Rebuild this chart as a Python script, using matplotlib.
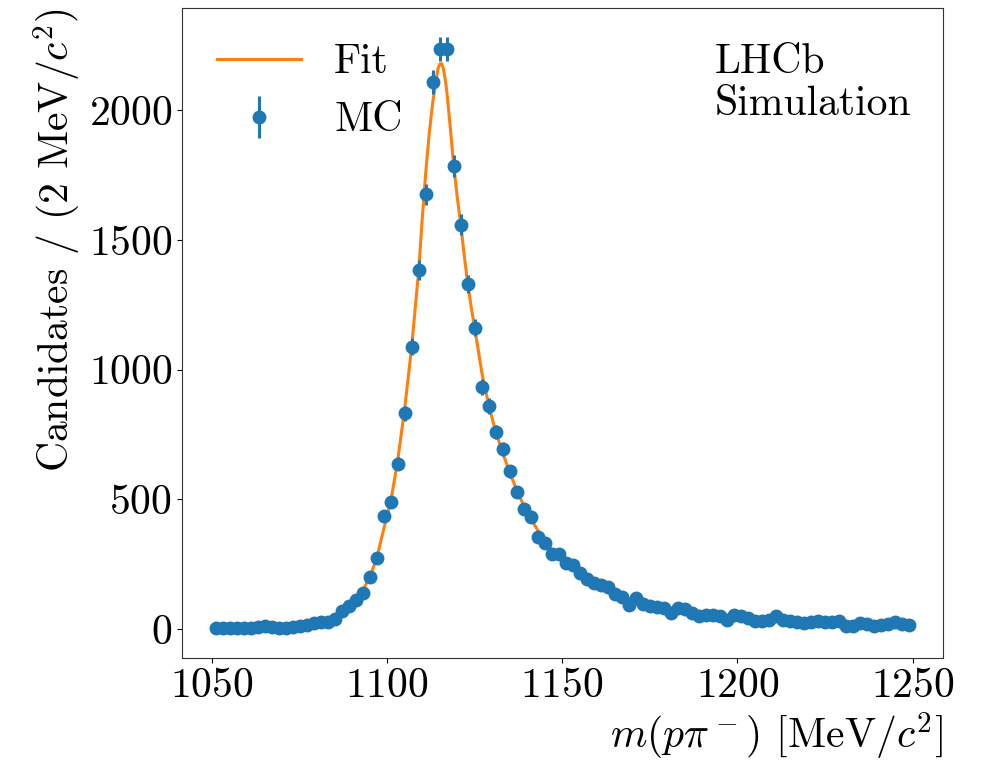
import numpy as np
import matplotlib
matplotlib.use("Agg")
import matplotlib.pyplot as plt

plt.rcParams['font.family'] = 'serif'
plt.rcParams['font.serif'] = ['cmr10']
plt.rcParams['mathtext.fontset'] = 'cm'
plt.rcParams['axes.formatter.use_mathtext'] = True
plt.rcParams['font.size'] = 30

# bin centres of m(p pi-) in MeV/c^2 (2 MeV bins)
mass = np.arange(1051, 1250, 2)

# MC candidates per bin
counts = [2, 3, 3, 4, 4, 4, 6, 10, 6, 2,
          4, 8, 10, 14, 22, 28, 26, 38, 68, 90,
          112, 140, 202, 274, 436, 489, 638, 832, 1088, 1384,
          1676, 2110, 2236, 2236, 1785, 1559, 1330, 1162, 932, 860,
          759, 694, 608, 527, 463, 431, 355, 333, 289, 289,
          253, 245, 216, 193, 176, 170, 161, 135, 122, 92,
          118, 96, 89, 86, 80, 60, 80, 77, 60, 50,
          53, 53, 51, 35, 53, 51, 41, 32, 32, 35,
          50, 35, 31, 28, 24, 28, 31, 26, 26, 32,
          13, 12, 22, 19, 13, 15, 18, 28, 18, 15]
counts = np.array(counts, dtype=float)
errors = np.sqrt(counts)

# fit curve
fit_m = [1050, 1060, 1070, 1075, 1080, 1083, 1085, 1087, 1089, 1091,
         1093, 1095, 1097, 1099, 1101, 1103, 1105, 1107, 1109, 1110,
         1111, 1112, 1113, 1114, 1114.5, 1115, 1115.5, 1116, 1116.5, 1117,
         1118, 1119, 1120, 1121, 1122, 1123, 1124, 1125, 1127, 1129,
         1131, 1133, 1135, 1137, 1139, 1141, 1143, 1145, 1147, 1149,
         1151, 1155, 1160, 1165, 1170, 1175, 1180, 1185, 1190, 1200,
         1210, 1220, 1230, 1240, 1250]
fit_y = [3, 5, 9, 14, 24, 35, 45, 60, 82, 110,
         148, 200, 272, 385, 490, 650, 850, 1090, 1384, 1580,
         1760, 1910, 2030, 2120, 2160, 2178, 2180, 2162, 2125, 2075,
         1935, 1785, 1665, 1559, 1440, 1330, 1240, 1160, 990, 862,
         760, 678, 603, 535, 475, 425, 380, 340, 305, 276,
         250, 207, 165, 135, 112, 94, 80, 69, 60, 47,
         37, 30, 25, 21, 18]

fig = plt.figure(figsize=(9.82, 7.67), dpi=100)
ax = fig.add_axes([0.1853, 0.1417, 0.775, 0.8475])

fit_line, = ax.plot(fit_m, fit_y, color='#ff7f0e', lw=2.2, zorder=2)
mc = ax.errorbar(mass, counts, yerr=errors, fmt='o', color='#1f77b4',
                 ms=9, elinewidth=2.2, capsize=0, zorder=3)

ax.set_xlim(1041.4, 1258.7)
ax.set_ylim(-113, 2393)
ax.set_xticks([1050, 1100, 1150, 1200, 1250])
ax.set_yticks([0, 500, 1000, 1500, 2000])

ax.set_xlabel(r'$m(p\pi^-)$ [MeV/$c^2$]', loc='right')
ax.set_ylabel(r'Candidates / (2 MeV/$c^2$)', loc='top')

ax.legend([fit_line, mc], ['Fit', 'MC'], loc='upper left', frameon=False,
          handlelength=2.0, borderaxespad=0.45, labelspacing=0.5)

ax.text(0.70, 0.945, 'LHCb\nSimulation', transform=ax.transAxes,
        ha='left', va='top', linespacing=1.15)

for s in ax.spines.values():
    s.set_color('#333333')

fig.savefig('out.png')
